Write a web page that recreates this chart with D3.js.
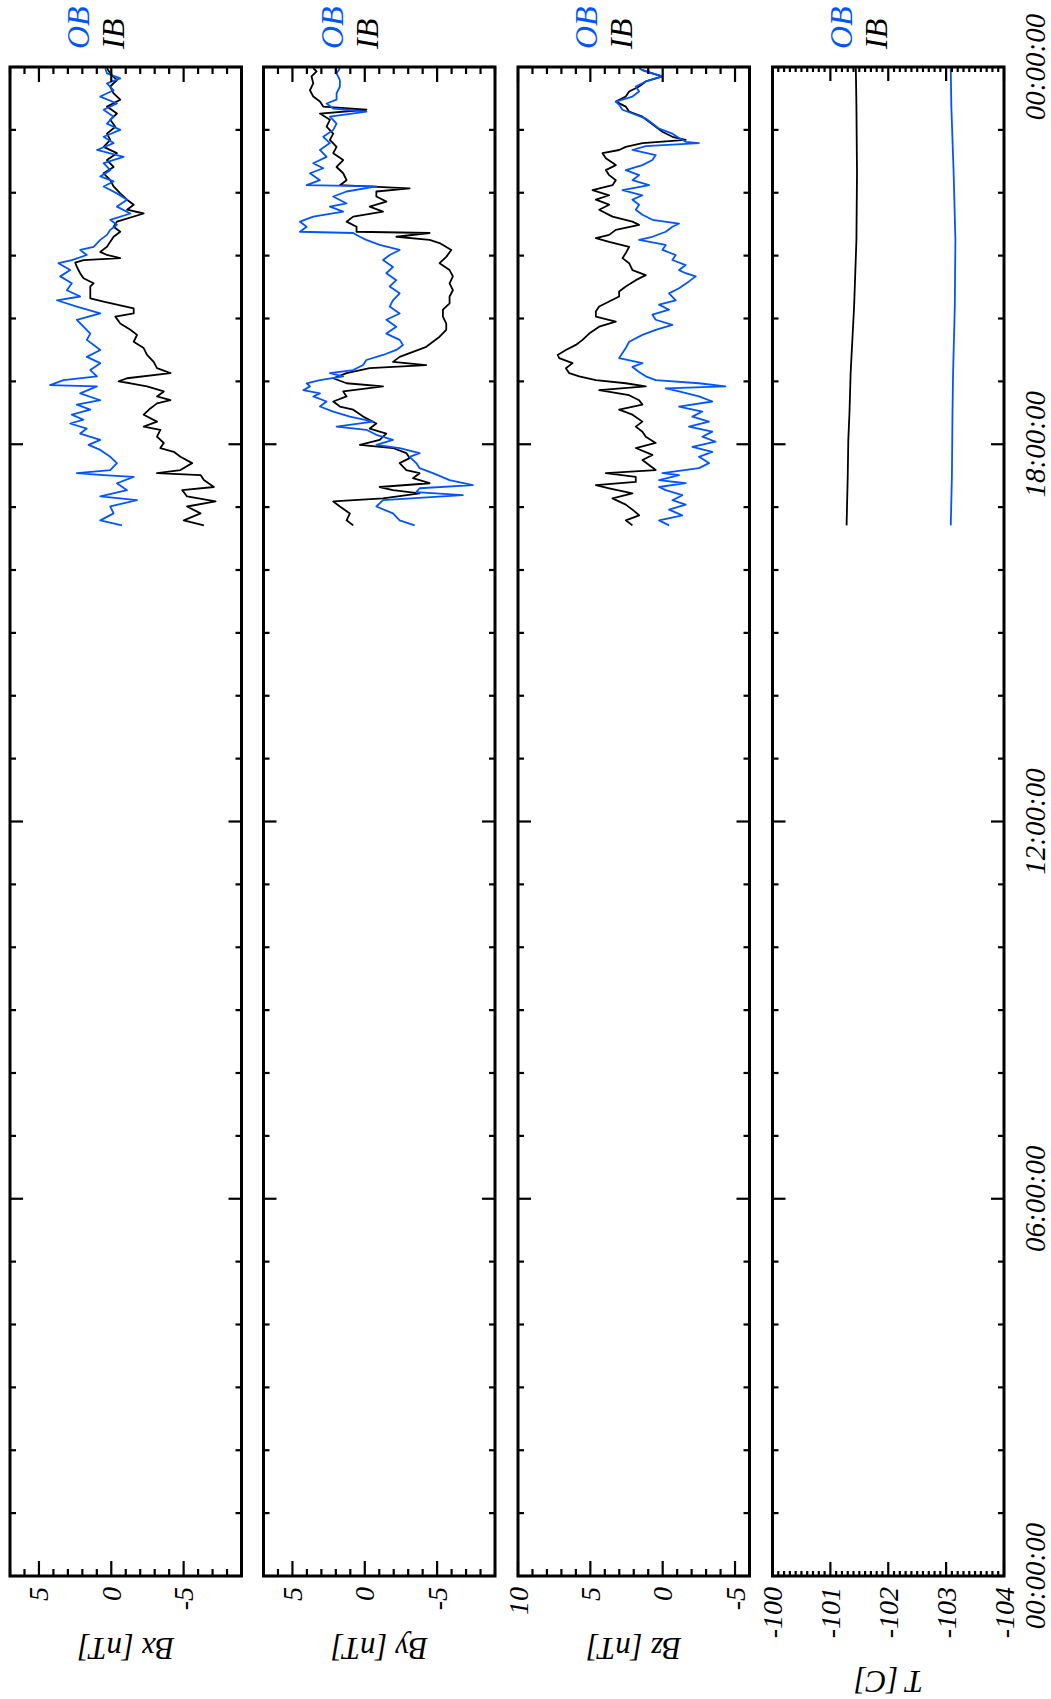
<!DOCTYPE html>
<html><head><meta charset="utf-8">
<script src="https://cdn.jsdelivr.net/npm/d3@7"></script>
<style>
body{margin:0;background:#fff}
text{font-family:"Liberation Serif","DejaVu Serif",serif;font-style:italic}
</style>
</head><body>
<svg id="c" width="1051" height="1699"></svg>
<script>
// ---------- data (time in hours of day, value in panel units) ----------
const timeTickHours = [0, 6, 12, 18, 24];
const timeTickLabels = ["00:00:00", "06:00:00", "12:00:00", "18:00:00", "00:00:00"];
const legendLabels = ["OB", "IB"];
const bxTickValues = [5, 0, -5];
const byTickValues = [5, 0, -5];
const bzTickValues = [10, 5, 0, -5];
const tTickValues = [-100, -101, -102, -103, -104];

const bxOB = [[16.71,-0.74],[16.79,0.76],[16.90,-0.16],[17.01,0.07],[17.11,-1.78],[17.17,0.76],[17.27,-1.09],[17.38,-0.39],[17.48,-1.55],[17.51,0.53],[17.54,2.38],[17.59,0.07],[17.70,-0.39],[17.80,0.07],[17.91,0.76],[17.99,1.57],[18.07,0.76],[18.17,2.15],[18.25,1.69],[18.33,2.84],[18.39,1.92],[18.47,2.73],[18.55,1.45],[18.63,2.38],[18.70,0.76],[18.81,2.15],[18.92,0.99],[18.94,4.23],[19.02,3.30],[19.08,0.99],[19.18,1.45],[19.29,0.76],[19.39,1.69],[19.50,0.76],[19.66,1.69],[19.76,1.45],[19.87,1.92],[19.98,2.38],[20.08,0.76],[20.19,2.38],[20.29,3.76],[20.35,2.15],[20.45,3.07],[20.56,2.73],[20.67,3.53],[20.77,2.84],[20.88,3.65],[20.93,2.73],[21.01,1.69],[21.09,2.15],[21.14,1.22],[21.25,0.76],[21.33,0.30],[21.41,0.07],[21.49,-0.39],[21.57,0.07],[21.67,-1.32],[21.78,-0.39],[21.89,-1.09],[21.99,-0.39],[22.10,0.53],[22.18,-0.16],[22.26,0.76],[22.36,0.07],[22.47,0.53],[22.57,-0.85],[22.68,0.99],[22.79,-0.16],[22.89,0.53],[23.00,-0.62],[23.10,0.30],[23.21,-0.16],[23.32,0.53],[23.42,-0.39],[23.53,0.76],[23.63,-0.16],[23.74,0.30],[23.82,-0.62],[23.90,0.30],[23.98,0.42]];
const bxIB = [[16.71,-6.40],[16.79,-5.01],[16.90,-6.17],[17.01,-5.24],[17.09,-7.21],[17.17,-5.24],[17.27,-4.90],[17.32,-7.09],[17.43,-6.40],[17.51,-6.17],[17.54,-3.16],[17.59,-4.78],[17.70,-5.59],[17.80,-4.78],[17.88,-4.32],[17.94,-3.39],[18.02,-3.63],[18.12,-3.16],[18.23,-3.39],[18.28,-2.24],[18.36,-3.16],[18.47,-2.24],[18.57,-2.70],[18.65,-3.16],[18.70,-4.09],[18.76,-3.16],[18.84,-3.63],[18.92,-2.47],[18.97,-1.32],[19.00,-0.51],[19.05,-1.09],[19.13,-4.09],[19.21,-3.16],[19.31,-2.93],[19.42,-2.47],[19.53,-2.24],[19.63,-1.55],[19.74,-1.78],[19.82,-1.32],[19.92,-0.62],[20.03,-0.28],[20.08,-1.55],[20.16,-1.55],[20.22,-0.39],[20.27,0.53],[20.32,1.45],[20.40,1.45],[20.51,1.45],[20.56,1.22],[20.64,1.92],[20.72,2.15],[20.82,2.38],[20.89,2.49],[20.93,1.92],[20.96,-0.62],[21.01,0.30],[21.06,0.76],[21.14,0.30],[21.22,0.07],[21.30,-0.16],[21.38,-0.62],[21.46,-0.16],[21.54,-0.39],[21.67,-2.24],[21.73,-1.09],[21.81,-1.55],[21.89,-1.09],[21.99,-0.62],[22.10,-0.16],[22.20,0.07],[22.31,0.53],[22.41,-0.16],[22.52,0.30],[22.63,-0.39],[22.73,0.53],[22.84,0.07],[22.94,0.30],[23.05,-0.28],[23.16,0.07],[23.26,-0.39],[23.37,0.30],[23.48,-0.62],[23.58,-0.16],[23.69,0.07],[23.79,-0.39],[23.90,0.07],[23.98,0.30]];

const byOB = [[16.71,-3.45],[16.79,-2.41],[16.90,-1.95],[17.01,-0.80],[17.11,-1.26],[17.19,-6.78],[17.24,-3.56],[17.30,-3.79],[17.35,-7.47],[17.43,-5.86],[17.54,-4.71],[17.62,-3.79],[17.70,-3.56],[17.80,-3.10],[17.86,-3.79],[17.94,-2.41],[17.99,-0.80],[18.07,-1.95],[18.15,-0.80],[18.23,-0.11],[18.28,1.95],[18.36,-0.57],[18.44,1.03],[18.52,2.18],[18.60,3.10],[18.68,2.64],[18.76,3.56],[18.81,3.10],[18.86,4.25],[18.92,3.79],[18.97,4.02],[19.02,3.10],[19.08,1.49],[19.13,2.41],[19.18,0.80],[19.26,0.11],[19.34,-0.11],[19.42,-1.26],[19.50,-2.18],[19.58,-2.64],[19.66,-2.41],[19.76,-1.49],[19.87,-2.18],[19.98,-1.49],[20.08,-2.41],[20.19,-1.72],[20.29,-1.95],[20.40,-2.41],[20.51,-1.72],[20.61,-2.18],[20.72,-1.49],[20.82,-1.95],[20.93,-1.26],[21.01,-1.72],[21.09,-2.41],[21.17,-1.03],[21.25,-0.11],[21.30,0.34],[21.36,0.80],[21.38,4.48],[21.46,4.02],[21.54,4.48],[21.62,3.56],[21.70,1.49],[21.78,2.41],[21.83,1.26],[21.94,2.18],[22.02,1.26],[22.10,-0.80],[22.12,4.02],[22.20,3.10],[22.31,3.79],[22.39,2.87],[22.47,3.56],[22.57,2.64],[22.68,3.10],[22.79,2.41],[22.89,2.87],[23.00,2.18],[23.10,1.95],[23.21,2.41],[23.29,-0.11],[23.34,2.18],[23.42,2.64],[23.48,1.95],[23.58,1.95],[23.69,1.72],[23.79,1.72],[23.90,1.95],[23.98,1.72]];
const byIB = [[16.71,0.80],[16.79,1.26],[16.90,1.03],[17.01,1.72],[17.09,2.18],[17.14,-1.26],[17.22,-3.79],[17.27,-1.95],[17.32,-1.03],[17.38,-4.48],[17.46,-3.33],[17.54,-3.79],[17.59,-2.87],[17.70,-2.41],[17.78,-3.10],[17.86,-2.87],[17.94,-1.95],[17.99,0.34],[18.07,-1.03],[18.17,-1.49],[18.25,-0.34],[18.33,-0.80],[18.44,0.11],[18.55,0.80],[18.60,1.72],[18.68,2.18],[18.76,1.26],[18.84,1.49],[18.92,-1.26],[18.97,1.26],[19.05,2.18],[19.13,1.26],[19.21,-0.34],[19.26,-4.25],[19.31,-1.95],[19.39,-2.41],[19.47,-3.33],[19.55,-4.25],[19.63,-4.71],[19.71,-5.17],[19.82,-5.63],[19.92,-5.63],[20.03,-5.40],[20.14,-5.40],[20.24,-5.86],[20.35,-5.86],[20.45,-6.09],[20.56,-5.86],[20.67,-6.09],[20.77,-5.86],[20.88,-5.17],[20.98,-5.63],[21.09,-5.98],[21.20,-5.17],[21.25,-4.48],[21.30,-2.18],[21.36,-4.48],[21.38,0.57],[21.46,0.57],[21.54,1.26],[21.62,0.80],[21.70,-1.26],[21.78,-0.34],[21.86,-1.49],[21.94,-0.80],[22.02,-0.80],[22.07,-3.10],[22.12,1.72],[22.20,1.26],[22.31,1.49],[22.41,1.95],[22.52,1.49],[22.63,2.18],[22.73,1.95],[22.84,2.41],[22.94,2.18],[23.05,2.64],[23.16,2.41],[23.26,3.10],[23.32,-0.11],[23.37,2.87],[23.45,3.10],[23.53,3.56],[23.63,3.79],[23.74,3.56],[23.85,3.68],[23.93,3.33],[23.98,3.56]];

const bzOB = [[16.71,-0.44],[16.79,0.25],[16.87,-1.36],[16.96,-0.44],[17.04,-1.59],[17.11,-0.67],[17.19,-1.36],[17.27,-0.21],[17.32,0.25],[17.38,-1.59],[17.43,0.25],[17.51,-1.13],[17.54,0.02],[17.62,-2.51],[17.70,-3.20],[17.80,-2.51],[17.88,-3.43],[17.96,-2.05],[18.04,-3.66],[18.12,-2.74],[18.20,-3.43],[18.28,-1.82],[18.36,-3.20],[18.44,-2.05],[18.52,-2.74],[18.60,-1.13],[18.68,-3.43],[18.76,-2.51],[18.84,-1.13],[18.89,-0.21],[18.92,-4.34],[18.97,-2.51],[19.02,0.48],[19.08,1.17],[19.15,1.63],[19.23,2.09],[19.29,1.40],[19.37,3.01],[19.45,2.78],[19.53,2.55],[19.63,2.32],[19.74,1.40],[19.82,0.48],[19.90,-0.67],[19.98,0.48],[20.06,0.71],[20.14,-0.44],[20.22,0.25],[20.29,-0.90],[20.40,-0.44],[20.48,-1.13],[20.59,-1.82],[20.67,-2.28],[20.72,-1.59],[20.77,-1.13],[20.85,-1.59],[20.93,-0.67],[21.01,-0.90],[21.09,0.02],[21.17,-0.21],[21.25,1.63],[21.30,0.71],[21.38,-0.21],[21.46,-0.67],[21.51,-1.13],[21.57,0.71],[21.65,1.40],[21.73,1.86],[21.81,1.63],[21.89,2.09],[21.96,1.40],[22.04,2.78],[22.12,0.94],[22.20,2.09],[22.28,1.63],[22.36,2.55],[22.44,1.40],[22.52,0.71],[22.60,0.48],[22.68,2.09],[22.74,1.17],[22.79,-2.51],[22.81,-1.59],[22.87,-1.13],[22.94,-0.67],[23.02,0.25],[23.10,0.71],[23.18,1.17],[23.26,2.09],[23.32,2.78],[23.40,3.01],[23.45,3.24],[23.53,2.09],[23.61,1.63],[23.69,1.86],[23.77,1.17],[23.85,0.02],[23.90,0.71],[23.95,1.40],[23.98,1.63]];
const bzIB = [[16.71,2.09],[16.79,2.55],[16.87,1.63],[16.96,2.09],[17.04,2.55],[17.14,3.47],[17.22,2.09],[17.30,3.70],[17.35,4.62],[17.40,1.86],[17.48,1.86],[17.54,3.93],[17.59,0.48],[17.67,0.94],[17.75,1.40],[17.83,0.71],[17.94,1.86],[18.02,0.48],[18.12,1.17],[18.20,1.40],[18.28,1.86],[18.36,1.40],[18.47,2.09],[18.55,3.01],[18.63,1.40],[18.70,1.63],[18.78,2.32],[18.86,4.39],[18.92,1.17],[18.97,2.55],[19.02,4.62],[19.08,5.77],[19.13,6.46],[19.21,6.69],[19.29,6.23],[19.37,7.15],[19.42,7.26],[19.50,6.69],[19.58,6.00],[19.66,5.54],[19.76,5.08],[19.87,4.39],[19.95,3.24],[20.03,4.62],[20.11,4.62],[20.19,4.39],[20.27,3.70],[20.35,3.01],[20.43,3.01],[20.51,2.55],[20.61,1.86],[20.69,1.17],[20.77,2.09],[20.88,2.32],[20.96,2.78],[21.04,2.55],[21.14,2.32],[21.22,3.70],[21.28,4.62],[21.33,3.70],[21.41,3.24],[21.49,1.63],[21.54,2.09],[21.62,3.47],[21.73,4.39],[21.81,3.70],[21.89,4.62],[21.96,3.70],[22.04,4.85],[22.12,3.47],[22.20,3.24],[22.28,3.70],[22.36,3.93],[22.44,3.24],[22.55,3.93],[22.63,4.16],[22.68,3.01],[22.73,2.55],[22.79,1.40],[22.84,-1.59],[22.89,-0.67],[22.97,0.02],[23.05,0.48],[23.13,0.94],[23.21,1.40],[23.29,2.32],[23.37,2.55],[23.45,3.24],[23.53,2.55],[23.61,2.32],[23.69,1.63],[23.77,1.17],[23.85,0.02],[23.90,0.71],[23.95,1.40]];

const tOB = [[16.71,-103.08],[17.50,-103.10],[18.50,-103.11],[19.13,-103.12],[20.19,-103.15],[21.25,-103.16],[22.31,-103.13],[23.37,-103.09],[23.98,-103.08]];
const tIB = [[16.71,-101.28],[17.50,-101.30],[18.07,-101.31],[18.50,-101.33],[19.13,-101.35],[20.19,-101.41],[21.25,-101.45],[22.31,-101.46],[23.37,-101.45],[23.98,-101.44]];

// ---------- layout (landscape frame, rotated -90deg onto the page) ----------
const PAGE_H = 1699;
const svg = d3.select("#c");
const g = svg.append("g").attr("transform", `translate(0,${PAGE_H}) rotate(-90)`);
const x = d3.scaleLinear().domain([0, 24]).range([123, 1632]);
const PH = 231.5;
const colors = {OB: "#0055ff", IB: "#000000"};

const panels = [
  {title: "Bx [nT]", top: 10,    domain: [-9, 7],     ticks: bxTickValues, minor: d3.range(-9, 7.01, 1),  majLen: 15, minLen: 7, ib: bxIB, ob: bxOB, titleX: 61},
  {title: "By [nT]", top: 263.5, domain: [-9, 7],     ticks: byTickValues, minor: d3.range(-9, 7.01, 1),  majLen: 15, minLen: 7, ib: byIB, ob: byOB, titleX: 61},
  {title: "Bz [nT]", top: 518,   domain: [-6, 10],    ticks: bzTickValues, minor: d3.range(-6, 10.01, 1), majLen: 15, minLen: 7, ib: bzIB, ob: bzOB, titleX: 61},
  {title: "T [C]",   top: 772.5, domain: [-104, -100], ticks: tTickValues, minor: d3.range(0, 41).map(i => -104 + i * 0.1), majLen: 14, minLen: 5, ib: tIB, ob: tOB, titleX: 28}
];
const hourTicks = d3.range(0, 25, 1);
const fmt = v => (v < 0 ? "-" : "") + Math.abs(Math.round(v));

panels.forEach((p, i) => {
  const y = d3.scaleLinear().domain(p.domain).range([p.top + PH, p.top]);
  const pg = g.append("g");
  const cid = "clip" + i;
  pg.append("clipPath").attr("id", cid).append("rect")
    .attr("x", x(0)).attr("y", p.top).attr("width", x(24) - x(0)).attr("height", PH);

  const line = d3.line().x(d => x(d[0])).y(d => y(d[1]));
  const lg = pg.append("g").attr("clip-path", `url(#${cid})`);
  lg.append("path").datum(p.ib).attr("d", line).attr("fill", "none")
    .attr("stroke", colors.IB).attr("stroke-width", 1.8).attr("stroke-linejoin", "round");
  lg.append("path").datum(p.ob).attr("d", line).attr("fill", "none")
    .attr("stroke", colors.OB).attr("stroke-width", 1.8).attr("stroke-linejoin", "round");

  // value ticks on left and right edges
  const tk = pg.append("g").attr("stroke", "#000").attr("stroke-width", 2.2);
  const majSet = new Set(p.ticks.map(v => Math.round(v * 10)));
  p.minor.forEach(v => {
    const len = majSet.has(Math.round(v * 10)) ? p.majLen : p.minLen;
    tk.append("line").attr("x1", x(0)).attr("x2", x(0) + len).attr("y1", y(v)).attr("y2", y(v));
    tk.append("line").attr("x1", x(24)).attr("x2", x(24) - len).attr("y1", y(v)).attr("y2", y(v));
  });
  // time ticks on top and bottom edges
  hourTicks.forEach(h => {
    const len = h % 6 === 0 ? 13 : 6;
    tk.append("line").attr("x1", x(h)).attr("x2", x(h)).attr("y1", p.top).attr("y2", p.top + len);
    tk.append("line").attr("x1", x(h)).attr("x2", x(h)).attr("y1", p.top + PH).attr("y2", p.top + PH - len);
  });

  pg.append("rect").attr("x", x(0)).attr("y", p.top).attr("width", x(24) - x(0)).attr("height", PH)
    .attr("fill", "none").attr("stroke", "#000").attr("stroke-width", 3);

  // value tick labels
  p.ticks.forEach(v => {
    pg.append("text").attr("x", x(0) - 11).attr("y", y(v)).attr("dy", "0.34em")
      .attr("text-anchor", "end").attr("font-size", 28).text(fmt(v));
  });
  // axis title
  pg.append("text").attr("transform", `translate(${p.titleX},${p.top + PH / 2}) rotate(-90)`)
    .attr("text-anchor", "middle").attr("font-size", 31).text(p.title);
  // legend
  legendLabels.forEach((lab, j) => {
    pg.append("text").attr("x", 1650).attr("y", p.top + 68 + j * 35).attr("dy", "0.35em")
      .attr("font-size", 32).attr("fill", colors[lab]).text(lab);
  });

  if (i === panels.length - 1) {
    timeTickHours.forEach((h, k) => {
      pg.append("text").attr("x", x(h)).attr("y", p.top + PH + 41)
        .attr("text-anchor", "middle").attr("font-size", 29).text(timeTickLabels[k]);
    });
  }
});
</script>
</body></html>
